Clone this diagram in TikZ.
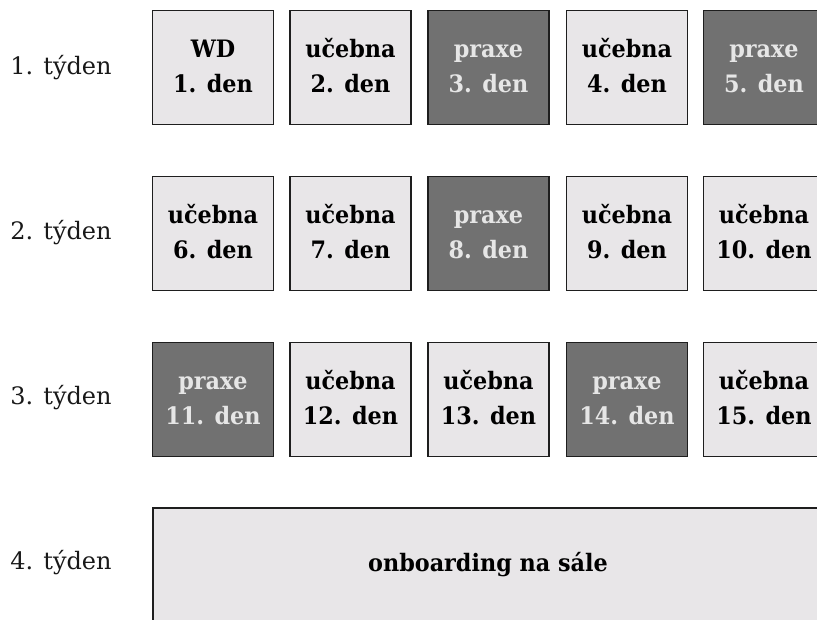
\documentclass[tikz,border=0pt]{standalone}
\usepackage{fontspec}
\setmainfont{DejaVu Serif}
\newfontfamily\boxfont[FakeStretch=0.93]{DejaVu Serif}
\definecolor{lightday}{HTML}{E8E6E8}
\definecolor{darkday}{HTML}{717171}
\definecolor{framecol}{HTML}{1E1E1E}
\definecolor{darktext}{HTML}{E6E6E6}
% two-line box text with a fixed baseline layout
\newcommand{\daytext}[2]{\strut#1\\#2\strut}
\tikzset{
  daybox/.style={draw=framecol, line width=1.8pt, minimum width=121pt, minimum height=114pt,
    inner sep=0pt, align=center, font=\boxfont\fontsize{24}{35}\selectfont\bfseries},
  classday/.style={daybox, fill=lightday, text=black},
  practday/.style={daybox, fill=darkday, text=darktext},
  weeklabel/.style={font=\fontsize{24}{28}\selectfont, text=black!90, inner sep=0pt}
}
\begin{document}
\begin{tikzpicture}[x=1pt, y=-1pt]
  \useasboundingbox (0,0) rectangle (817,619);
  \clip (0,0) rectangle (817,619);
  \fill[white] (0,0) rectangle (817,619);

  % week labels
  \node[weeklabel] (w1) at (61,68) {1. týden};
  \node[weeklabel] (w2) at (61,233) {2. týden};
  \node[weeklabel] (w3) at (61,398) {3. týden};
  \node[weeklabel] (w4) at (61,563) {4. týden};

  % week 1
  \node[classday] (d1) at (213,67.5) {\daytext{WD}{1. den}};
  \node[classday] (d2) at (350.5,67.5) {\daytext{učebna}{2. den}};
  \node[practday] (d3) at (488.5,67.5) {\daytext{praxe}{3. den}};
  \node[classday] (d4) at (627,67.5) {\daytext{učebna}{4. den}};
  \node[practday] (d5) at (764,67.5) {\daytext{praxe}{5. den}};

  % week 2
  \node[classday] (d6) at (213,233.5) {\daytext{učebna}{6. den}};
  \node[classday] (d7) at (350.5,233.5) {\daytext{učebna}{7. den}};
  \node[practday] (d8) at (488.5,233.5) {\daytext{praxe}{8. den}};
  \node[classday] (d9) at (627,233.5) {\daytext{učebna}{9. den}};
  \node[classday] (d10) at (764,233.5) {\daytext{učebna}{10. den}};

  % week 3
  \node[practday] (d11) at (213,399.5) {\daytext{praxe}{11. den}};
  \node[classday] (d12) at (350.5,399.5) {\daytext{učebna}{12. den}};
  \node[classday] (d13) at (488.5,399.5) {\daytext{učebna}{13. den}};
  \node[practday] (d14) at (627,399.5) {\daytext{praxe}{14. den}};
  \node[classday] (d15) at (764,399.5) {\daytext{učebna}{15. den}};

  % week 4
  \node[classday, minimum width=670pt, minimum height=114pt] (onb) at (488,565) {onboarding na sále};
\end{tikzpicture}
\end{document}
